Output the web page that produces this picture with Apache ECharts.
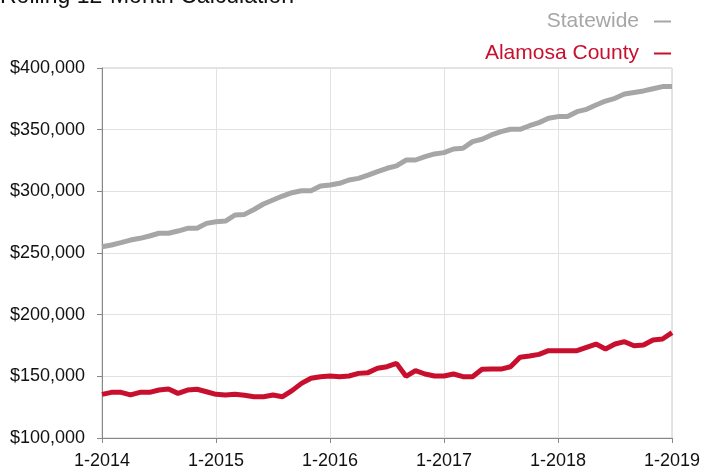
<!DOCTYPE html>
<html>
<head>
<meta charset="utf-8">
<script src="https://cdn.jsdelivr.net/npm/echarts@6/dist/echarts.min.js"></script>
<style>
  html, body { margin: 0; padding: 0; background: #fff; }
  #chart { width: 704px; height: 470px; }
</style>
</head>
<body>
<div id="chart"></div>
<script>
// 数据
const years = [2014, 2015, 2016, 2017, 2018, 2019]
const months = []
years.forEach(function (y, i) {
  const last = i === years.length - 1 ? 1 : 12
  for (let m = 1; m <= last; m++) months.push(m + '-' + y)
})

const statewide = [
  255100, 256500, 258400, 260500, 261900, 263800, 266000, 266000, 267800, 270000, 270000, 274000,
  275400, 275900, 280800, 281300, 285300, 289700, 293000, 296200, 298900, 300500, 300500, 304300,
  305100, 306500, 309200, 310500, 313200, 316000, 318700, 320600, 325400, 325400, 328100, 330300,
  331400, 334300, 334900, 340300, 342200, 345700, 348400, 350300, 350300, 353200, 355700, 359200,
  360600, 360600, 364600, 366500, 370000, 373200, 375400, 378900, 380200, 381400, 383200, 384900,
  384900
]

const alamosa = [
  135400, 137000, 137000, 134900, 137000, 137000, 138900, 139700, 136200, 138900, 139500, 137500,
  135400, 134900, 135400, 134600, 133500, 133500, 134900, 133500, 138400, 144300, 148400, 149700,
  150300, 149700, 150300, 152400, 153000, 156500, 157800, 160500, 150000, 154600, 151900, 150300,
  150300, 151900, 149700, 149700, 155700, 155900, 155900, 157800, 165400, 166500, 167800, 170800,
  170800, 170800, 170800, 173500, 176200, 172200, 176200, 178100, 174800, 175400, 179500, 180300,
  185400
]

const grey = '#a6a6a6'
const red = '#c8102e'
const font = 'Liberation Sans, Arial, Helvetica, sans-serif'

const myChart = echarts.init(document.getElementById('chart'))

const option = {
  animation: false,
  title: {
    text: 'Rolling 12-Month Calculation',
    left: 0,
    top: -15,
    padding: 0,
    textStyle: { fontFamily: font, fontSize: 23, fontWeight: 'normal', color: '#111' }
  },
  legend: {
    orient: 'vertical',
    right: 28,
    top: 6,
    align: 'right',
    itemGap: 11,
    itemWidth: 17,
    itemHeight: 2,
    icon: 'rect',
    textStyle: { fontFamily: font, fontSize: 21, padding: [0, 10, 0, 0] },
    data: [
      { name: 'Statewide', textStyle: { color: grey } },
      { name: 'Alamosa County', textStyle: { color: red } }
    ]
  },
  grid: {
    left: 102,
    right: 32,
    top: 68,
    bottom: 32,
    show: true,
    borderColor: '#c8c8c8',
    borderWidth: 1
  },
  xAxis: {
    type: 'category',
    data: months,
    boundaryGap: false,
    axisLine: { lineStyle: { color: '#888' } },
    axisTick: { interval: 11, length: 5, lineStyle: { color: '#888' } },
    axisLabel: {
      interval: 11,
      color: '#111',
      fontFamily: font,
      fontSize: 18,
      margin: 14
    },
    splitLine: { show: true, interval: 11, lineStyle: { color: '#e2e2e2' } }
  },
  yAxis: {
    type: 'value',
    min: 100000,
    max: 400000,
    interval: 50000,
    axisLine: { show: true, lineStyle: { color: '#888' } },
    axisTick: { show: true, length: 5, lineStyle: { color: '#888' } },
    axisLabel: {
      color: '#111',
      fontFamily: font,
      fontSize: 18,
      margin: 17,
      formatter: function (v) {
        return '$' + String(v).replace(/\B(?=(\d{3})+(?!\d))/g, ',')
      }
    },
    splitLine: { lineStyle: { color: '#e2e2e2' } }
  },
  series: [
    {
      name: 'Statewide',
      type: 'line',
      data: statewide,
      showSymbol: false,
      itemStyle: { color: grey },
      lineStyle: { color: grey, width: 5 }
    },
    {
      name: 'Alamosa County',
      type: 'line',
      data: alamosa,
      showSymbol: false,
      itemStyle: { color: red },
      lineStyle: { color: red, width: 5 }
    }
  ]
}

myChart.setOption(option)
</script>
</body>
</html>
